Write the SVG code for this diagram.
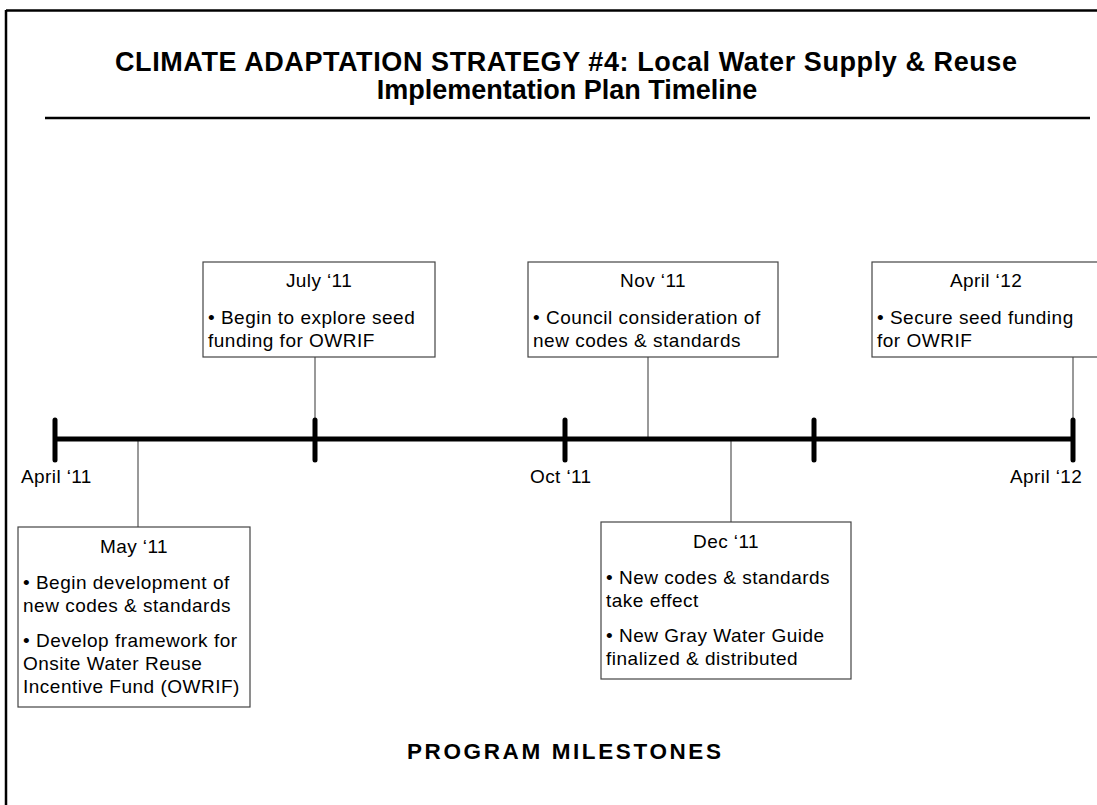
<svg xmlns="http://www.w3.org/2000/svg" width="1097" height="805" viewBox="0 0 1097 805">
<style>
.title{font-family:"Liberation Sans",Arial,sans-serif;font-weight:bold;font-size:27px;fill:#000;text-anchor:middle}
.foot{font-family:"Liberation Sans",Arial,sans-serif;font-weight:bold;font-size:22.5px;fill:#000;text-anchor:middle}
.box{fill:#fff;stroke:#444;stroke-width:1.2}
.hd{font-family:"Liberation Sans",Arial,sans-serif;font-size:19px;letter-spacing:0.4px;fill:#000;text-anchor:middle}
.tx{font-family:"Liberation Sans",Arial,sans-serif;font-size:19px;letter-spacing:0.5px;fill:#000}
.lbl{font-family:"Liberation Sans",Arial,sans-serif;font-size:19px;letter-spacing:0.4px;fill:#000}
.conn{stroke:#555;stroke-width:1.2;fill:none}
.axis{stroke:#000;stroke-width:5;fill:none}
.tick{stroke:#000;stroke-width:5;stroke-linecap:round;fill:none}
</style>
<rect width="1097" height="805" fill="#fff"/>
<g id="frame">
<line x1="6" y1="10.5" x2="1097" y2="10.5" stroke="#000" stroke-width="2.5"/>
<line x1="6" y1="10" x2="6" y2="805" stroke="#000" stroke-width="2.5"/>
</g>
<g id="title">
<text class="title" x="566" y="71" textLength="902" lengthAdjust="spacing">CLIMATE ADAPTATION STRATEGY #4: Local Water Supply &amp; Reuse</text>
<text class="title" x="567" y="99">Implementation Plan Timeline</text>
<line x1="45" y1="118" x2="1090" y2="118" stroke="#000" stroke-width="2.5"/>
</g>
<g id="connectors">
<line class="conn" x1="315" y1="357" x2="315" y2="420"/>
<line class="conn" x1="648" y1="357" x2="648" y2="439"/>
<line class="conn" x1="1073" y1="357" x2="1073" y2="420"/>
<line class="conn" x1="138" y1="439" x2="138" y2="527"/>
<line class="conn" x1="731" y1="439" x2="731" y2="522"/>
</g>
<g id="timeline">
<line class="axis" x1="55" y1="439" x2="1073" y2="439"/>
<line class="tick" x1="55" y1="420" x2="55" y2="460"/>
<line class="tick" x1="315" y1="420" x2="315" y2="460"/>
<line class="tick" x1="565" y1="420" x2="565" y2="460"/>
<line class="tick" x1="814" y1="420" x2="814" y2="460"/>
<line class="tick" x1="1073" y1="420" x2="1073" y2="460"/>
<text class="lbl" x="21" y="483">April  ‘11</text>
<text class="lbl" x="530" y="483">Oct ‘11</text>
<text class="lbl" x="1010" y="483">April ‘12</text>
</g>
<g id="node-jul11">
<rect class="box" x="203" y="262" width="232" height="95"/>
<text class="hd" x="319" y="287">July ‘11</text>
<text class="tx" x="208" y="324">• Begin to explore seed</text>
<text class="tx" x="208" y="347">funding for OWRIF</text>
</g>
<g id="node-nov11">
<rect class="box" x="528" y="262" width="250" height="95"/>
<text class="hd" x="653" y="287">Nov ‘11</text>
<text class="tx" x="533" y="324">• Council consideration of</text>
<text class="tx" x="533" y="347">new codes &amp; standards</text>
</g>
<g id="node-apr12">
<rect class="box" x="872" y="262" width="240" height="95"/>
<text class="hd" x="986" y="287">April ‘12</text>
<text class="tx" x="877" y="324">• Secure seed funding</text>
<text class="tx" x="877" y="347">for OWRIF</text>
</g>
<g id="node-may11">
<rect class="box" x="18" y="527" width="232" height="180"/>
<text class="hd" x="134" y="553">May ‘11</text>
<text class="tx" x="23" y="589">• Begin development of</text>
<text class="tx" x="23" y="612">new codes &amp; standards</text>
<text class="tx" x="23" y="647">• Develop framework for</text>
<text class="tx" x="23" y="670">Onsite Water Reuse</text>
<text class="tx" x="23" y="693">Incentive Fund (OWRIF)</text>
</g>
<g id="node-dec11">
<rect class="box" x="601" y="522" width="250" height="157"/>
<text class="hd" x="726" y="548">Dec ‘11</text>
<text class="tx" x="606" y="584">• New codes &amp; standards</text>
<text class="tx" x="606" y="607">take effect</text>
<text class="tx" x="606" y="642">• New Gray Water Guide</text>
<text class="tx" x="606" y="665">finalized &amp; distributed</text>
</g>
<g id="footer">
<text class="foot" x="564" y="759" textLength="314" lengthAdjust="spacing">PROGRAM MILESTONES</text>
</g>
</svg>
